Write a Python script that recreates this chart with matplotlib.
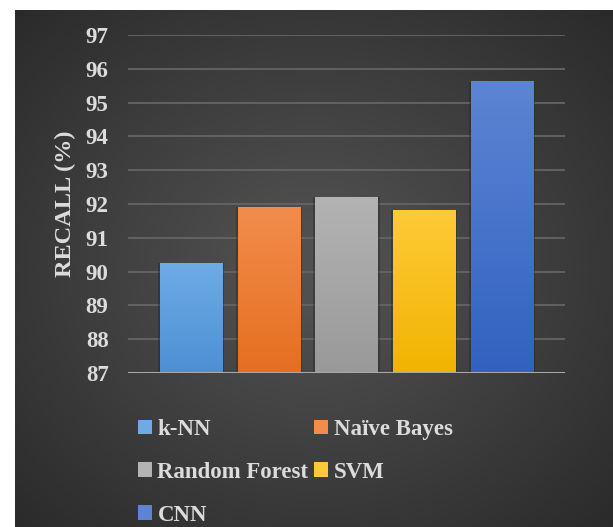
import matplotlib.pyplot as plt
import matplotlib.colors as mcolors
from matplotlib.patches import Patch
import numpy as np

models = ["k-NN", "Naïve Bayes", "Random Forest", "SVM", "CNN"]
recall = [90.25, 91.9, 92.2, 91.82, 95.62]
topColors = ["#6eabe6", "#f28c4c", "#b3b3b3", "#ffca38", "#5d84d4"]
baseColors = ["#4c90d4", "#e56f1f", "#999999", "#f0b400", "#3162c0"]
yTicks = list(range(87, 98))

textColor = "#dcdcdc"
plt.rcParams['font.family'] = ['Liberation Serif', 'DejaVu Serif']
plt.rcParams['font.weight'] = 'bold'

fig = plt.figure(figsize=(6.13, 5.27), dpi=100)
fig.patch.set_facecolor("white")

# dark backdrop with a soft lighter centre
bg = fig.add_axes([15 / 613, 0, 1 - 15 / 613, 1 - 10 / 527])
yy, xx = np.mgrid[0:1:300j, 0:1:300j]
dist = np.sqrt(((xx - 0.5) / 0.75) ** 2 + ((yy - 0.5) / 0.75) ** 2)
shade = np.clip(1 - dist, 0, 1)
bgCmap = mcolors.LinearSegmentedColormap.from_list("bg", ["#282828", "#505050"])
bg.imshow(shade, cmap=bgCmap, aspect="auto", extent=[0, 1, 0, 1], vmin=0, vmax=0.9)
bg.set_axis_off()

ax = fig.add_axes([128 / 613, 1 - 373 / 527, 437 / 613, (373 - 35) / 527])
ax.patch.set_alpha(0)

for y in yTicks[1:]:
    ax.axhline(y, color="#656565", linewidth=1.3, zorder=1)
ax.axhline(87, color="#a8a8a8", linewidth=2.2, zorder=4)

barWidth = 0.8
grad = np.linspace(0, 1, 100).reshape(-1, 1)
for i, (val, c1, c0) in enumerate(zip(recall, topColors, baseColors)):
    x0 = i - barWidth / 2
    # faint shadow behind each bar
    ax.bar(i, val - 87, bottom=87, width=barWidth + 0.05, color="#1e1e1e", alpha=0.35, zorder=2)
    cmap = mcolors.LinearSegmentedColormap.from_list("b%d" % i, [c0, c1])
    ax.imshow(grad, cmap=cmap, origin="lower", aspect="auto",
              extent=[x0, x0 + barWidth, 87, val], zorder=3)

ax.set_xlim(-0.81, 4.81)
ax.set_ylim(87, 97)
ax.set_xticks([])
ax.set_yticks(yTicks)
ax.tick_params(axis="y", length=0, pad=14, labelsize=16.5, labelcolor=textColor)
for s in ax.spines.values():
    s.set_visible(False)

fig.text(65 / 613, 1 - 204 / 527, "RECALL (%)", rotation=90, ha="center", va="center",
         fontsize=17.5, color=textColor, fontweight="bold")

handles = [Patch(facecolor=c, edgecolor="none") for c in topColors]
order = [0, 2, 4, 1, 3]
leg = fig.legend([handles[k] for k in order], [models[k] for k in order], ncol=2,
                 loc="upper left", bbox_to_anchor=(138 / 613, 1 - 419 / 527),
                 frameon=False, fontsize=16.5, handlelength=0.6, handleheight=0.6,
                 handletextpad=0.25, columnspacing=0.25, labelspacing=0.95,
                 borderpad=0, borderaxespad=0)
for t in leg.get_texts():
    t.set_color(textColor)

fig.savefig("out.png", dpi=100)
